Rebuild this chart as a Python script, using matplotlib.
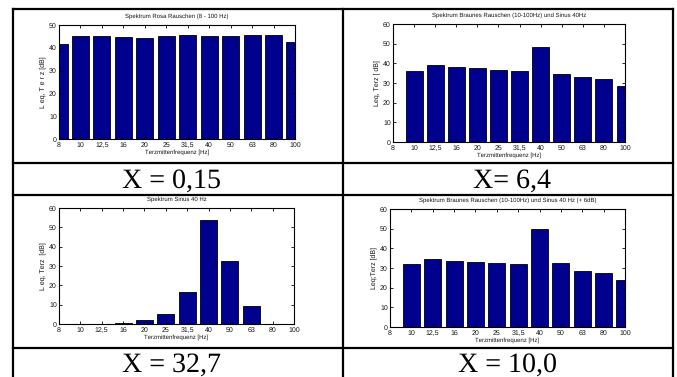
import numpy as np
import matplotlib
matplotlib.use("Agg")
import matplotlib.pyplot as plt
from matplotlib import font_manager
from matplotlib.lines import Line2D

# Terzband-Mittenfrequenzen
bands = ["8", "10", "12,5", "16", "20", "25", "31,5", "40", "50", "63", "80", "100"]

# Pegel je Terzband [dB]
rosa = [41.5, 45.3, 45.3, 44.9, 44.3, 45.3, 45.8, 45.2, 45.3, 45.8, 45.8, 42.4]
braun_sinus = [0, 36.2, 39.0, 38.2, 37.7, 36.7, 36.2, 48.2, 34.8, 33.0, 31.9, 28.4]
sinus = [0, 0, 0, 0.4, 2.1, 5.2, 16.4, 53.8, 32.4, 9.1, 0, 0]
braun_sinus_6db = [0, 31.8, 34.7, 33.8, 33.3, 32.3, 31.8, 49.8, 32.3, 28.7, 27.7, 24.1]

titles = [
    "Spektrum Rosa Rauschen (8 - 100 Hz)",
    "Spektrum Braunes Rauschen (10-100Hz) und Sinus 40Hz",
    "Spektrum Sinus 40 Hz",
    "Spektrum Braunes Rauschen (10-100Hz) und Sinus 40 Hz (+ 6dB)",
]
ylabels = ["L eq, T e r z [dB]", "Leq, Terz [ dB]", "L eq, Terz  [dB]", "Leq;Terz [dB]"]
captions = ["X = 0,15", "X= 6,4", "X = 32,7", "X = 10,0"]
ymax = [50, 60, 60, 60]
series = [rosa, braun_sinus, sinus, braun_sinus_6db]

plt.rcParams["text.hinting"] = "no_hinting"
plt.rcParams["text.hinting_factor"] = 1

W, H = 677, 377
fig = plt.figure(figsize=(W / 100, H / 100), dpi=100)

# schmale Schrift fuer die kleinen Diagrammtexte
installed = {f.name for f in font_manager.fontManager.ttflist}
if "Liberation Sans Narrow" in installed:
    small_font, fs = "Liberation Sans Narrow", 5.4
else:
    small_font, fs = "Liberation Sans", 4.5
serif = ["Liberation Serif", "DejaVu Serif"]

# Achsenpositionen in Pixeln: links, oben, rechts, unten
boxes = [
    (59, 25, 295, 139),
    (393, 24, 625, 142),
    (59, 208, 294, 324),
    (390, 209, 625, 327),
]

x = np.arange(1, len(bands) + 1)
for vals, title, ylab, top, (l, t, r, b) in zip(series, titles, ylabels, ymax, boxes):
    ax = fig.add_axes([l / W, 1 - b / H, (r - l) / W, (b - t) / H])
    ax.bar(x, vals, width=0.8, color="#00008f", edgecolor="black", linewidth=0.6)
    ax.set_xlim(1, 12)
    ax.set_ylim(0, top)
    ax.set_xticks(x)
    ax.set_xticklabels(bands)
    ax.set_yticks(np.arange(0, top + 1, 10))
    ax.tick_params(direction="in", length=2.5, width=0.6, labelsize=fs + 0.7,
                   pad=1.5, top=True, right=True, colors="black",
                   labelcolor="#111111")
    ax.tick_params(axis="x", pad=2)
    for lab in ax.get_xticklabels() + ax.get_yticklabels():
        lab.set_family(small_font)
    for sp in ax.spines.values():
        sp.set_linewidth(0.8)
    ax.set_title(title, fontsize=fs + 0.1, family=small_font, color="#111111", pad=5)
    ax.set_xlabel("Terzmittenfrequenz [Hz]", fontsize=fs, family=small_font,
                  color="#111111", labelpad=0.5)
    ax.set_ylabel(ylab, fontsize=fs + 0.5, family=small_font, color="#111111",
                  labelpad=2)

# Tabellenrahmen
xl, xm, xr = 12.5, 343, 673
rows = [9, 163, 195, 348]
def px_line(x0, y0, x1, y1):
    fig.add_artist(Line2D([x0 / W, x1 / W], [1 - y0 / H, 1 - y1 / H],
                          color="black", linewidth=1.6, transform=fig.transFigure))

for y in rows:
    px_line(xl, y, xr, y)
for xv in (xl, xm, xr):
    px_line(xv, rows[0], xv, H + 2)

# Beschriftungen unter den Diagrammen
cap_pos = [(172, 181), (512, 181), (172, 365), (508, 365)]
for text, (cx, cy) in zip(captions, cap_pos):
    fig.text(cx / W, 1 - cy / H, text, ha="center", va="center",
             fontsize=20, family=serif)

fig.savefig("out.png", dpi=100)
